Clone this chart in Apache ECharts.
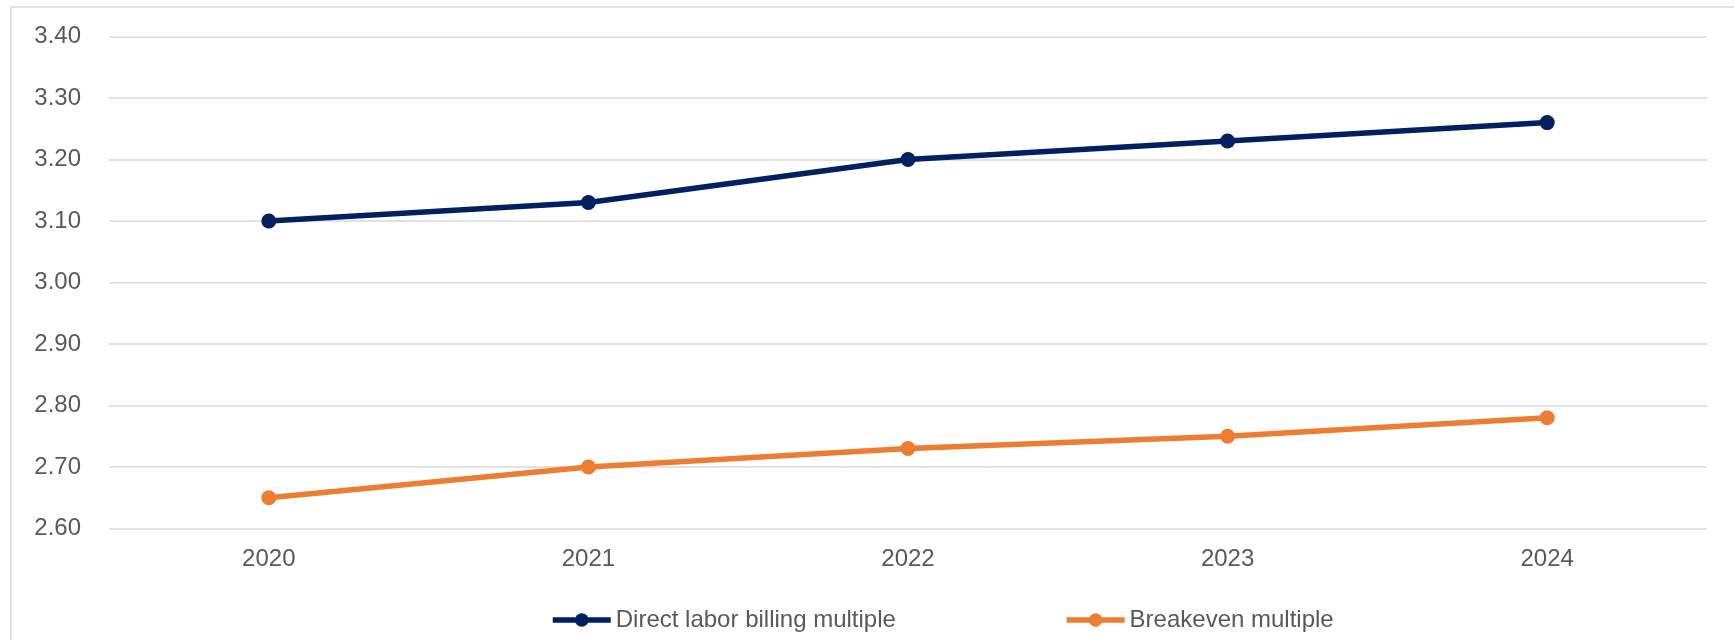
<!DOCTYPE html>
<html>
<head>
<meta charset="utf-8">
<script src="https://cdn.jsdelivr.net/npm/echarts@6/dist/echarts.min.js"></script>
<style>
html,body{margin:0;padding:0;background:#fff;}
#chart{width:1734px;height:640px;}
</style>
</head>
<body>
<div id="chart"></div>
<script>
const categories = ['2020', '2021', '2022', '2023', '2024'];
const directLabor = [3.10, 3.13, 3.20, 3.23, 3.26];
const breakeven = [2.65, 2.70, 2.73, 2.75, 2.78];
const seriesNames = ['Direct labor billing multiple', 'Breakeven multiple'];

const FONT = '"Liberation Sans", Arial, sans-serif';
const TXT = '#595959';
const chart = echarts.init(document.getElementById('chart'));
chart.setOption({
  animation: false,
  backgroundColor: '#fff',
  graphic: [{
    type: 'rect',
    shape: { x: 11, y: 7, width: 1740, height: 700 },
    style: { fill: 'none', stroke: '#d9d9d9', lineWidth: 1.5 },
    silent: true, z: -1
  }],
  grid: { left: 109, right: 27, top: 36.5, bottom: 111.5, containLabel: false },
  legend: {
    left: 545, top: 603,
    itemWidth: 58, itemHeight: 17, itemGap: 168,
    lineStyle: { width: 5.5 },
    textStyle: { color: TXT, fontSize: 24, fontFamily: FONT },
    data: seriesNames
  },
  xAxis: {
    type: 'category',
    data: categories,
    boundaryGap: true,
    axisLine: { show: false },
    axisTick: { show: false },
    axisLabel: { color: TXT, fontSize: 24, fontFamily: FONT, margin: 19 }
  },
  yAxis: {
    type: 'value',
    min: 2.6, max: 3.4, interval: 0.1,
    axisLine: { show: false },
    axisTick: { show: false },
    splitLine: { lineStyle: { color: '#d9d9d9', width: 1.5 } },
    axisLabel: {
      color: TXT, fontSize: 24, fontFamily: FONT, margin: 28,
      formatter: v => v.toFixed(2)
    }
  },
  series: [
    {
      name: seriesNames[0], type: 'line', data: directLabor,
      symbol: 'circle', symbolSize: 15,
      lineStyle: { color: '#002060', width: 5.5 },
      itemStyle: { color: '#002060' }
    },
    {
      name: seriesNames[1], type: 'line', data: breakeven,
      symbol: 'circle', symbolSize: 15,
      lineStyle: { color: '#ED7D31', width: 5.5 },
      itemStyle: { color: '#ED7D31' }
    }
  ]
});
</script>
</body>
</html>
